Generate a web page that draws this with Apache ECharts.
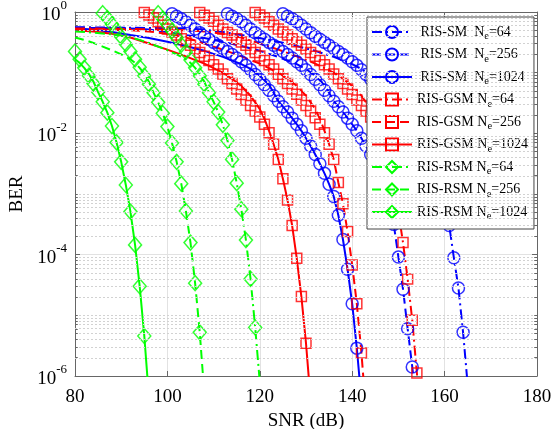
<!DOCTYPE html>
<html>
<head>
<meta charset="utf-8">
<script src="https://cdn.jsdelivr.net/npm/echarts@6/dist/echarts.min.js"></script>
<style>
  html, body { margin: 0; padding: 0; background: #fff; }
  #chart { width: 554px; height: 429px; }
</style>
</head>
<body>
<div id="chart"></div>
<script>
// BER versus SNR for RIS-aided SM, GSM and RSM with N_e = 64, 256, 1024.
// Each curve has a simulated line ([SNR dB, BER]) and a set of bound markers.

// ---- RIS-SM ----
const smLine64 = [[80,5.62e-1],[92,5.50e-1],[104,5.37e-1],[108,5.13e-1],[112,4.68e-1],[116,4.17e-1],[120,3.72e-1],[124,3.24e-1],[128,2.75e-1],[132,2.29e-1],[136,1.82e-1],[140,1.38e-1],[142,1.15e-1],[144,8.91e-2],[146,6.31e-2],[147,4.68e-2],[148,3.39e-2],[149,2.75e-2],[150,2.24e-2],[151,1.78e-2],[152,1.41e-2],[153,1.10e-2],[154,8.32e-3],[155,6.17e-3],[156,4.47e-3],[157,3.16e-3],[158,2.19e-3],[159,1.26e-3],[160,6.76e-4],[161,3.02e-4],[162,8.91e-5],[163,2.82e-5],[164,5.25e-6],[165,7.08e-7]];
const smPts64 = [[125,9.33e-1],[126,8.51e-1],[127,7.76e-1],[128,6.92e-1],[129,6.03e-1],[130,5.25e-1],[131,4.57e-1],[132,3.98e-1],[133,3.55e-1],[134,3.16e-1],[135,2.82e-1],[136,2.51e-1],[137,2.24e-1],[138,2.00e-1],[139,1.74e-1],[140,1.51e-1],[141,1.32e-1],[142,1.12e-1],[143,9.33e-2],[144,7.76e-2],[145,6.31e-2],[146,5.13e-2],[147,4.17e-2],[148,3.39e-2],[149,2.75e-2],[150,2.24e-2],[151,1.78e-2],[152,1.41e-2],[153,1.10e-2],[154,8.32e-3],[155,6.17e-3],[156,4.47e-3],[157,3.16e-3],[158,2.19e-3],[159,1.26e-3],[160,6.76e-4],[161,3.02e-4],[162,8.91e-5],[163,2.82e-5],[164,5.25e-6]];

const smLine256 = [[80,5.50e-1],[92,5.37e-1],[96,5.13e-1],[100,4.68e-1],[104,4.17e-1],[108,3.72e-1],[112,3.24e-1],[116,2.75e-1],[120,2.29e-1],[124,1.82e-1],[128,1.38e-1],[130,1.15e-1],[132,8.91e-2],[134,6.31e-2],[135,4.68e-2],[136,3.39e-2],[137,2.75e-2],[138,2.24e-2],[139,1.78e-2],[140,1.41e-2],[141,1.10e-2],[142,8.32e-3],[143,6.17e-3],[144,4.47e-3],[145,3.16e-3],[146,2.19e-3],[147,1.45e-3],[148,7.59e-4],[149,3.16e-4],[150,9.12e-5],[151,2.69e-5],[152,6.03e-6],[153,1.41e-6],[154,3.16e-7]];
const smPts256 = [[113,9.33e-1],[114,8.51e-1],[115,7.76e-1],[116,6.92e-1],[117,6.03e-1],[118,5.25e-1],[119,4.57e-1],[120,3.98e-1],[121,3.55e-1],[122,3.16e-1],[123,2.82e-1],[124,2.51e-1],[125,2.24e-1],[126,2.00e-1],[127,1.74e-1],[128,1.51e-1],[129,1.32e-1],[130,1.12e-1],[131,9.33e-2],[132,7.76e-2],[133,6.31e-2],[134,5.13e-2],[135,4.17e-2],[136,3.39e-2],[137,2.75e-2],[138,2.24e-2],[139,1.78e-2],[140,1.41e-2],[141,1.10e-2],[142,8.32e-3],[143,6.17e-3],[144,4.47e-3],[145,3.16e-3],[146,2.19e-3],[147,1.45e-3],[148,7.59e-4],[149,3.16e-4],[150,9.12e-5],[151,2.69e-5],[152,6.03e-6],[153,1.41e-6]];

const smLine1024 = [[80,5.37e-1],[84,5.13e-1],[88,4.68e-1],[92,4.17e-1],[96,3.72e-1],[100,3.24e-1],[104,2.75e-1],[108,2.29e-1],[112,1.82e-1],[116,1.38e-1],[118,1.15e-1],[120,8.91e-2],[122,6.31e-2],[123,4.68e-2],[124,3.39e-2],[125,2.75e-2],[126,2.24e-2],[127,1.78e-2],[128,1.41e-2],[129,1.10e-2],[130,8.32e-3],[131,6.17e-3],[132,4.47e-3],[133,3.16e-3],[134,2.19e-3],[135,1.45e-3],[136,9.12e-4],[137,4.47e-4],[138,1.78e-4],[139,5.75e-5],[140,1.55e-5],[141,2.88e-6],[142,3.98e-7]];
const smPts1024 = [[101,9.33e-1],[102,8.51e-1],[103,7.76e-1],[104,6.92e-1],[105,6.03e-1],[106,5.25e-1],[107,4.57e-1],[108,3.98e-1],[109,3.55e-1],[110,3.16e-1],[111,2.82e-1],[112,2.51e-1],[113,2.24e-1],[114,2.00e-1],[115,1.74e-1],[116,1.51e-1],[117,1.32e-1],[118,1.12e-1],[119,9.33e-2],[120,7.76e-2],[121,6.31e-2],[122,5.13e-2],[123,4.17e-2],[124,3.39e-2],[125,2.75e-2],[126,2.24e-2],[127,1.78e-2],[128,1.41e-2],[129,1.10e-2],[130,8.32e-3],[131,6.17e-3],[132,4.47e-3],[133,3.16e-3],[134,2.19e-3],[135,1.45e-3],[136,9.12e-4],[137,4.47e-4],[138,1.78e-4],[139,5.75e-5],[140,1.55e-5],[141,2.88e-6]];

// ---- RIS-GSM ----
const gsmLine64 = [[80,5.37e-1],[92,5.25e-1],[104,5.01e-1],[108,4.79e-1],[112,4.37e-1],[116,3.80e-1],[120,3.02e-1],[124,2.40e-1],[128,1.86e-1],[132,1.41e-1],[136,1.00e-1],[138,7.94e-2],[140,6.03e-2],[142,4.17e-2],[144,2.51e-2],[145,1.74e-2],[146,1.10e-2],[147,6.61e-3],[148,3.31e-3],[149,1.41e-3],[150,5.01e-4],[151,1.58e-4],[152,3.98e-5],[153,8.32e-6],[154,1.12e-6],[155,1.26e-7]];
const gsmPts64 = [[119,9.77e-1],[120,8.91e-1],[121,7.94e-1],[122,6.92e-1],[123,6.03e-1],[124,5.25e-1],[125,4.68e-1],[126,4.17e-1],[127,3.63e-1],[128,3.24e-1],[129,2.82e-1],[130,2.45e-1],[131,2.14e-1],[132,1.86e-1],[133,1.58e-1],[134,1.35e-1],[135,1.15e-1],[136,9.55e-2],[137,7.94e-2],[138,6.61e-2],[139,5.37e-2],[140,4.37e-2],[141,3.55e-2],[142,2.88e-2],[143,2.34e-2],[144,1.86e-2],[145,1.41e-2],[146,1.02e-2],[147,6.61e-3],[148,3.31e-3],[149,1.41e-3],[150,5.01e-4],[151,1.58e-4],[152,3.98e-5],[153,8.32e-6],[154,1.12e-6]];

const gsmLine256 = [[80,5.25e-1],[86,5.13e-1],[92,5.01e-1],[96,4.79e-1],[100,4.37e-1],[104,3.80e-1],[108,3.02e-1],[112,2.40e-1],[116,1.86e-1],[120,1.41e-1],[124,1.00e-1],[126,7.94e-2],[128,6.03e-2],[130,4.17e-2],[132,2.51e-2],[133,1.74e-2],[134,1.10e-2],[135,6.61e-3],[136,3.72e-3],[137,1.55e-3],[138,6.92e-4],[139,2.40e-4],[140,6.76e-5],[141,1.55e-5],[142,2.40e-6],[143,2.51e-7]];
const gsmPts256 = [[107,9.77e-1],[108,8.81e-1],[109,7.94e-1],[110,7.01e-1],[111,6.03e-1],[112,5.25e-1],[113,4.61e-1],[114,4.17e-1],[115,3.63e-1],[116,3.20e-1],[117,2.82e-1],[118,2.45e-1],[119,2.14e-1],[120,1.89e-1],[121,1.58e-1],[122,1.35e-1],[123,1.15e-1],[124,9.40e-2],[125,7.94e-2],[126,6.61e-2],[127,5.37e-2],[128,4.40e-2],[129,3.55e-2],[130,2.88e-2],[131,2.34e-2],[132,1.80e-2],[133,1.41e-2],[134,1.02e-2],[135,6.61e-3],[136,3.72e-3],[137,1.55e-3],[138,6.92e-4],[139,2.40e-4],[140,6.76e-5],[141,1.55e-5],[142,2.40e-6]];

const gsmLine1024 = [[80,5.01e-1],[84,4.79e-1],[88,4.37e-1],[92,3.80e-1],[96,3.02e-1],[100,2.40e-1],[104,1.86e-1],[108,1.41e-1],[112,1.00e-1],[114,7.94e-2],[116,6.03e-2],[118,4.17e-2],[120,2.51e-2],[121,1.74e-2],[122,1.10e-2],[123,6.61e-3],[124,3.72e-3],[125,1.78e-3],[126,7.94e-4],[127,3.02e-4],[128,8.71e-5],[129,2.04e-5],[130,3.47e-6],[131,3.98e-7]];
const gsmPts1024 = [[95,9.77e-1],[96,8.91e-1],[97,7.94e-1],[98,6.92e-1],[99,6.03e-1],[100,5.25e-1],[101,4.68e-1],[102,4.17e-1],[103,3.63e-1],[104,3.24e-1],[105,2.82e-1],[106,2.45e-1],[107,2.14e-1],[108,1.86e-1],[109,1.58e-1],[110,1.35e-1],[111,1.15e-1],[112,9.55e-2],[113,7.94e-2],[114,6.61e-2],[115,5.37e-2],[116,4.37e-2],[117,3.55e-2],[118,2.88e-2],[119,2.34e-2],[120,1.86e-2],[121,1.41e-2],[122,1.02e-2],[123,6.61e-3],[124,3.72e-3],[125,1.78e-3],[126,7.94e-4],[127,3.02e-4],[128,8.71e-5],[129,2.04e-5],[130,3.47e-6]];

// ---- RIS-RSM ----
const rsmLine64 = [[80,4.79e-1],[84,4.57e-1],[88,4.27e-1],[90,4.07e-1],[92,3.80e-1],[94,3.47e-1],[96,3.09e-1],[98,2.69e-1],[100,2.34e-1],[102,2.00e-1],[104,1.66e-1],[105,1.45e-1],[106,1.20e-1],[107,9.55e-2],[108,7.08e-2],[109,4.68e-2],[110,3.31e-2],[111,2.24e-2],[112,1.38e-2],[113,7.59e-3],[114,3.72e-3],[115,1.51e-3],[116,5.62e-4],[117,1.74e-4],[118,3.98e-5],[119,6.31e-6],[120,7.94e-7]];
const rsmPts64 = [[98,9.55e-1],[99,7.76e-1],[100,6.17e-1],[101,4.90e-1],[102,3.80e-1],[103,2.88e-1],[104,2.19e-1],[105,1.62e-1],[106,1.20e-1],[107,8.91e-2],[108,6.46e-2],[109,4.68e-2],[110,3.31e-2],[111,2.24e-2],[112,1.38e-2],[113,7.59e-3],[114,3.72e-3],[115,1.51e-3],[116,5.62e-4],[117,1.74e-4],[118,3.98e-5],[119,6.31e-6]];

const rsmLine256 = [[80,3.80e-1],[82,3.47e-1],[84,3.09e-1],[86,2.69e-1],[88,2.34e-1],[90,2.00e-1],[92,1.66e-1],[93,1.45e-1],[94,1.20e-1],[95,9.55e-2],[96,7.08e-2],[97,4.68e-2],[98,3.24e-2],[99,2.14e-2],[100,1.29e-2],[101,6.92e-3],[102,3.39e-3],[103,1.48e-3],[104,5.25e-4],[105,1.58e-4],[106,3.39e-5],[107,5.25e-6],[108,5.01e-7]];
const rsmPts256 = [[86,9.55e-1],[87,7.94e-1],[88,6.31e-1],[89,5.01e-1],[90,3.89e-1],[91,2.95e-1],[92,2.24e-1],[93,1.66e-1],[94,1.23e-1],[95,8.91e-2],[96,6.46e-2],[97,4.68e-2],[98,3.24e-2],[99,2.14e-2],[100,1.29e-2],[101,6.92e-3],[102,3.39e-3],[103,1.48e-3],[104,5.25e-4],[105,1.58e-4],[106,3.39e-5],[107,5.25e-6]];

const rsmLine1024 = [[80,1.66e-1],[81,1.45e-1],[82,1.20e-1],[83,9.55e-2],[84,7.08e-2],[85,4.79e-2],[86,3.31e-2],[87,2.19e-2],[88,1.32e-2],[89,7.08e-3],[90,3.39e-3],[91,1.41e-3],[92,5.13e-4],[93,1.45e-4],[94,3.02e-5],[95,4.57e-6],[96,4.47e-7]];
const rsmPts1024 = [[80,2.24e-1],[81,1.66e-1],[82,1.20e-1],[83,8.91e-2],[84,6.61e-2],[85,4.79e-2],[86,3.31e-2],[87,2.19e-2],[88,1.32e-2],[89,7.08e-3],[90,3.39e-3],[91,1.41e-3],[92,5.13e-4],[93,1.45e-4],[94,3.02e-5],[95,4.57e-6]];

// Axis ranges and tick labels
const snrTicks = [80, 100, 120, 140, 160, 180];
const berExponents = [-6, -4, -2, 0];

// ---- styling ----
const FONT = 'Liberation Serif';
const BLUE = '#0000ff', RED = '#ff0000', GREEN = '#00ff00';
const DASHED = [9, 5];
const DASHDOT = [10, 4, 2, 4];
const SOLID = 'solid';

const curves = [
  { id: 'sm64',    text: [' RIS-SM  N', '=64'],   line: smLine64,    pts: smPts64,    color: BLUE,  dash: DASHDOT, symbol: 'circle',  size: 12 },
  { id: 'sm256',   text: [' RIS-SM  N', '=256'],  line: smLine256,   pts: smPts256,   color: BLUE,  dash: DASHED,  symbol: 'circle',  size: 12 },
  { id: 'sm1024',  text: [' RIS-SM  N', '=1024'], line: smLine1024,  pts: smPts1024,  color: BLUE,  dash: SOLID,   symbol: 'circle',  size: 12 },
  { id: 'gsm64',   text: ['RIS-GSM N', '=64'],    line: gsmLine64,   pts: gsmPts64,   color: RED,   dash: DASHDOT, symbol: 'rect',    size: 10 },
  { id: 'gsm256',  text: ['RIS-GSM N', '=256'],   line: gsmLine256,  pts: gsmPts256,  color: RED,   dash: DASHED,  symbol: 'rect',    size: 10 },
  { id: 'gsm1024', text: ['RIS-GSM N', '=1024'],  line: gsmLine1024, pts: gsmPts1024, color: RED,   dash: SOLID,   symbol: 'rect',    size: 10 },
  { id: 'rsm64',   text: ['RIS-RSM N', '=64'],    line: rsmLine64,   pts: rsmPts64,   color: GREEN, dash: DASHDOT, symbol: 'diamond', size: [13, 15] },
  { id: 'rsm256',  text: ['RIS-RSM N', '=256'],   line: rsmLine256,  pts: rsmPts256,  color: GREEN, dash: DASHED,  symbol: 'diamond', size: [13, 15] },
  { id: 'rsm1024', text: ['RIS-RSM N', '=1024'],  line: rsmLine1024, pts: rsmPts1024, color: GREEN, dash: SOLID,   symbol: 'diamond', size: [13, 15] }
];
const byId = {};
curves.forEach(c => { byId[c.id] = c; });

const toLog = arr => arr.map(([snr, ber]) => [snr, Math.log10(ber)]);

// dotted minor grid at 2..9 x 10^e and at the unlabelled decades, plus short inner ticks
const minorLevels = [];
for (let e = -6; e < 0; e++) {
  for (let k = 1; k <= 9; k++) {
    if (k === 1 && e % 2 === 0) continue;
    minorLevels.push(e + Math.log10(k));
  }
}
const gridSeries = {
  type: 'line', data: [], silent: true, z: 1,
  markLine: {
    silent: true, symbol: ['none', 'none'], label: { show: false }, animation: false,
    lineStyle: { color: '#d2d2d2', type: [2, 2], width: 1 },
    data: minorLevels.map(v => ({ yAxis: v }))
  }
};
const tickSeries = {
  type: 'line', data: [], silent: true, z: 4,
  markLine: {
    silent: true, symbol: ['none', 'none'], label: { show: false }, animation: false,
    lineStyle: { color: '#666', type: 'solid', width: 1 },
    data: minorLevels.flatMap(v => [
      [{ coord: [80, v] }, { coord: [80.6, v] }],
      [{ coord: [179.4, v] }, { coord: [180, v] }]
    ])
  }
};

const series = [gridSeries];
curves.forEach(c => {
  const style = { color: 'rgba(255,255,255,0)', borderColor: c.color, borderWidth: 1.5 };
  series.push({
    name: c.id, type: 'line', data: toLog(c.line), showSymbol: false,
    symbol: c.symbol, symbolSize: c.size, clip: true, silent: true, z: 3,
    lineStyle: { color: c.color, width: 2, type: c.dash },
    itemStyle: style
  });
  series.push({
    name: c.id + '-marks', type: 'scatter', data: toLog(c.pts),
    symbol: c.symbol, symbolSize: c.size, clip: true, silent: true, z: 3,
    itemStyle: style
  });
});
series.push(tickSeries);

const axisColor = '#666';
const chart = echarts.init(document.getElementById('chart'), null, { renderer: 'canvas' });
chart.setOption({
  animation: false,
  backgroundColor: '#fff',
  grid: { left: 75, right: 17, top: 12, bottom: 53, containLabel: false, outerBoundsMode: 'none' },
  xAxis: [{
    type: 'value', min: snrTicks[0], max: snrTicks[snrTicks.length - 1], interval: snrTicks[1] - snrTicks[0],
    axisLine: { show: true, onZero: false, lineStyle: { color: axisColor, width: 1 } },
    axisTick: { inside: true, length: 5, lineStyle: { color: axisColor } },
    axisLabel: { fontFamily: FONT, fontSize: 19, color: '#000', margin: 12 },
    splitLine: { show: true, lineStyle: { color: '#e2e2e2', width: 1 } },
    name: 'SNR (dB)', nameLocation: 'middle', nameGap: 32,
    nameTextStyle: { fontFamily: FONT, fontSize: 19, color: '#000' }
  }, {
    type: 'value', position: 'top', min: snrTicks[0], max: snrTicks[snrTicks.length - 1], interval: snrTicks[1] - snrTicks[0],
    axisLine: { show: true, onZero: false, lineStyle: { color: axisColor, width: 1 } },
    axisTick: { inside: true, length: 5, lineStyle: { color: axisColor } },
    axisLabel: { show: false }, splitLine: { show: false }
  }],
  yAxis: [{
    type: 'value', min: berExponents[0], max: berExponents[berExponents.length - 1], interval: 2,
    axisLine: { show: true, onZero: false, lineStyle: { color: axisColor, width: 1 } },
    axisTick: { inside: true, length: 5, lineStyle: { color: axisColor } },
    axisLabel: {
      margin: 8,
      formatter: v => '{b|10}{s|' + v + '}',
      rich: {
        b: { fontFamily: FONT, fontSize: 19, color: '#000', padding: [6, 0, 0, 0], verticalAlign: 'bottom' },
        s: { fontFamily: FONT, fontSize: 13, color: '#000', verticalAlign: 'top' }
      }
    },
    splitLine: { show: true, lineStyle: { color: '#e2e2e2', width: 1 } },
    name: 'BER', nameLocation: 'middle', nameGap: 48,
    nameTextStyle: { fontFamily: FONT, fontSize: 19, color: '#000' }
  }, {
    type: 'value', position: 'right', min: berExponents[0], max: berExponents[berExponents.length - 1], interval: 2,
    axisLine: { show: true, onZero: false, lineStyle: { color: axisColor, width: 1 } },
    axisTick: { inside: true, length: 5, lineStyle: { color: axisColor } },
    axisLabel: { show: false }, splitLine: { show: false }
  }],
  legend: {
    orient: 'vertical', left: 367, top: 17,
    data: curves.map(c => c.id),
    itemWidth: 40, itemHeight: 15, itemGap: 2.5,
    padding: [5, 6, 7, 4],
    backgroundColor: '#fff', borderColor: '#444', borderWidth: 1,
    selectedMode: false,
    formatter: name => {
      const c = byId[name];
      return c.text[0] + '{e|e}' + c.text[1];
    },
    textStyle: {
      fontFamily: FONT, fontSize: 14, color: '#000', lineHeight: 20,
      rich: {
        e: { fontFamily: FONT, fontSize: 10.5, color: '#000', verticalAlign: 'bottom', lineHeight: 12, padding: [9, 0, 0, 0] }
      }
    }
  },
  series: series
});
</script>
</body>
</html>
